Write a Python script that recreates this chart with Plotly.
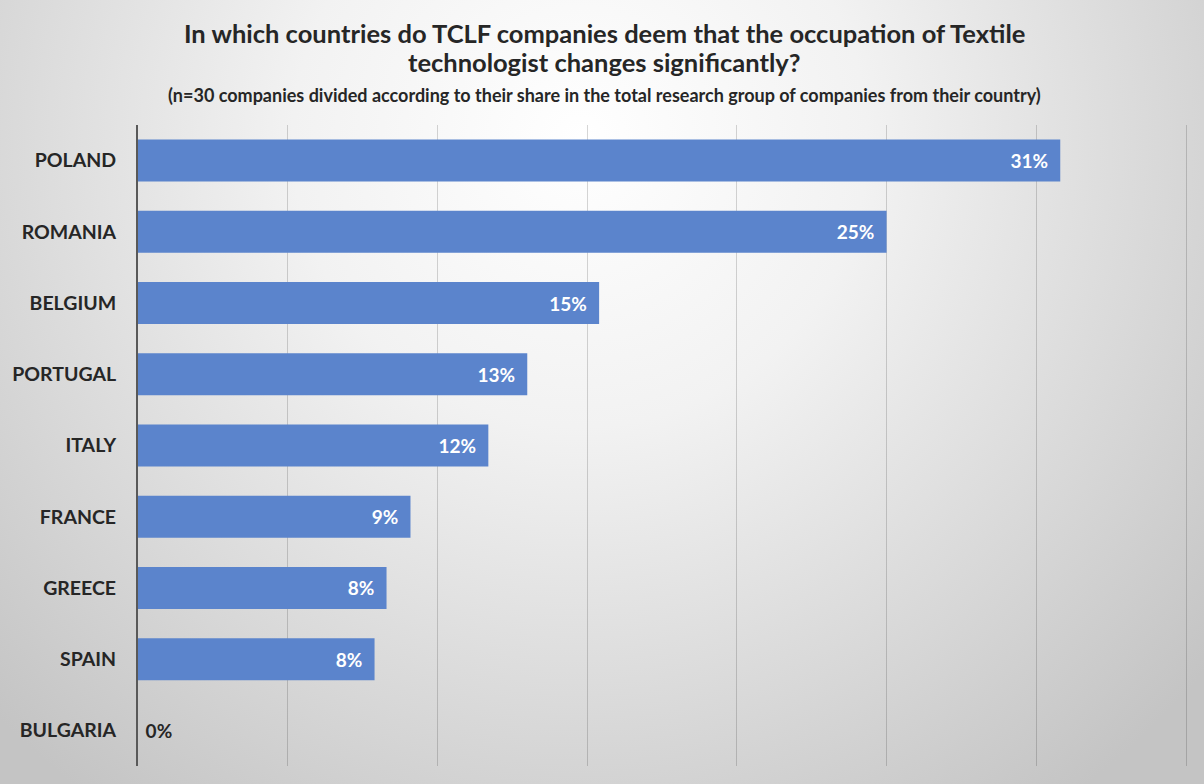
import base64
import plotly.graph_objects as go

# share of companies per country (%)
countries = ['POLAND', 'ROMANIA', 'BELGIUM', 'PORTUGAL', 'ITALY', 'FRANCE', 'GREECE', 'SPAIN', 'BULGARIA']
shares = [30.8, 25.0, 15.4, 13.0, 11.7, 9.1, 8.3, 7.9, 0.0]
grid_ticks = [5, 10, 15, 20, 25, 30, 35]

title_1 = 'In which countries do TCLF companies deem that the occupation of Textile'
title_2 = 'technologist changes significantly?'
subtitle = '(n=30 companies divided according to their share in the total research group of companies from their country)'

W, H = 1204, 784
ML, MR, MT, MB = 138, 9, 125, 18
PW, PH = W - ML - MR, H - MT - MB
X_MAX = 35.3

FONT = 'Lato'
DARK = '#262626'
BAR = '#5B84CC'
NBSP = '\u00a0'

# radial grey background, drawn as an svg image behind everything
svg = (
    '<svg xmlns="http://www.w3.org/2000/svg" width="%d" height="%d">'
    '<defs><radialGradient id="g" gradientUnits="userSpaceOnUse" cx="580" cy="140" r="820">'
    '<stop offset="0" stop-color="#ffffff"/><stop offset="0.35" stop-color="#f2f2f2"/>'
    '<stop offset="1" stop-color="#c4c4c4"/></radialGradient></defs>'
    '<rect width="%d" height="%d" fill="url(#g)"/></svg>' % (W, H, W, H)
)
bg_src = 'data:image/svg+xml;base64,' + base64.b64encode(svg.encode()).decode()


def px_x(x):
    return (x - ML) / PW


def px_y(y):
    return (H - MB - y) / PH


positions = []
labels = []
for v in shares:
    if v == 0:
        positions.append('outside')
        labels.append(NBSP + '%d%%' % round(v))
    else:
        positions.append('inside')
        labels.append('%d%%' % round(v) + NBSP * 2)

fig = go.Figure()
fig.add_trace(go.Bar(
    x=shares, y=countries, orientation='h',
    marker=dict(color=BAR, line=dict(width=0)),
    width=0.59,
    text=labels,
    textposition=positions,
    insidetextanchor='end',
    insidetextfont=dict(family=FONT, size=19, color='white', weight='bold'),
    outsidetextfont=dict(family=FONT, size=19, color=DARK, weight='bold'),
    cliponaxis=False,
    hoverinfo='skip',
))

annotations = []
for txt, y, size in [(title_1, 33, 25.5), (title_2, 62, 25.5), (subtitle, 95, 18)]:
    annotations.append(dict(
        text=txt, xref='paper', yref='paper', x=px_x(604), y=px_y(y),
        xanchor='center', yanchor='middle', showarrow=False,
        font=dict(family=FONT, size=size, color=DARK, weight='bold'),
    ))

fig.update_layout(
    width=W, height=H,
    margin=dict(l=ML, r=MR, t=MT, b=MB),
    paper_bgcolor='#d0d0d0',
    plot_bgcolor='rgba(0,0,0,0)',
    showlegend=False,
    annotations=annotations,
    images=[dict(
        source=bg_src, xref='paper', yref='paper',
        x=px_x(0), y=px_y(0), sizex=W / PW, sizey=H / PH,
        xanchor='left', yanchor='top', sizing='stretch', layer='below',
    )],
    xaxis=dict(
        range=[0, X_MAX], tickvals=grid_ticks, showticklabels=False,
        showgrid=True, gridcolor='rgba(0,0,0,0.16)', gridwidth=1,
        zeroline=False, showline=False, fixedrange=True,
    ),
    yaxis=dict(
        categoryorder='array', categoryarray=countries,
        range=[len(countries) - 0.5, -0.5],
        showline=True, linecolor='#595959', linewidth=2,
        showgrid=False, zeroline=False, ticks='',
        ticklabelstandoff=16,
        tickfont=dict(family=FONT, size=19.5, color=DARK, weight='bold'),
        fixedrange=True,
    ),
)

# the page body has a default 8px margin, drop it so the chart sits at 0,0
fig.write_html('out.html', config={'displayModeBar': False},
               post_script="document.body.style.margin='0';")
